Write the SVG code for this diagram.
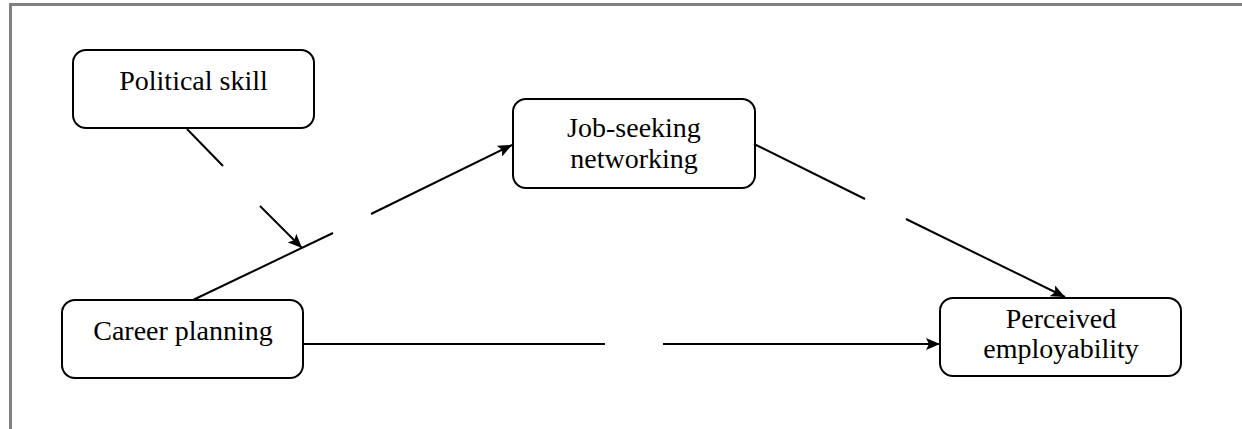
<svg xmlns="http://www.w3.org/2000/svg" width="1242" height="429" viewBox="0 0 1242 429">
<style>
.box{fill:#fff;stroke:#000;stroke-width:2}
.lbl{font-family:"Liberation Serif","Times New Roman",serif;font-size:28px;fill:#000;text-anchor:middle}
.ln{stroke:#000;stroke-width:2;fill:none}
.frame{stroke:#808080;stroke-width:3;fill:none}
</style>
<defs>
<marker id="ah" viewBox="0 0 14 12" refX="14" refY="6" markerWidth="14" markerHeight="12" markerUnits="userSpaceOnUse" orient="auto">
<path d="M0,0 L14,6 L0,12 L3,6 Z" fill="#000"/>
</marker>
</defs>
<rect width="1242" height="429" fill="#fff"/>
<path class="frame" d="M10.5,429 V4.5 H1242"/>
<g id="political-skill">
<rect class="box" x="73" y="50" width="241" height="78" rx="13"/>
<text class="lbl" x="193.5" y="90">Political skill</text>
</g>
<g id="career-planning">
<rect class="box" x="62" y="300" width="241" height="78" rx="13"/>
<text class="lbl" x="183" y="340">Career planning</text>
</g>
<g id="job-seeking-networking">
<rect class="box" x="513" y="99" width="242" height="89" rx="13"/>
<text class="lbl" x="634" y="137">Job-seeking</text>
<text class="lbl" x="634" y="168">networking</text>
</g>
<g id="perceived-employability">
<rect class="box" x="940" y="298" width="241" height="78" rx="13"/>
<text class="lbl" x="1061" y="328">Perceived</text>
<text class="lbl" x="1061" y="358">employability</text>
</g>
<g id="connectors">
<line class="ln" x1="187" y1="129" x2="223" y2="166"/>
<line class="ln" x1="260" y1="206" x2="302" y2="248" marker-end="url(#ah)"/>
<line class="ln" x1="193" y1="300" x2="333" y2="233"/>
<line class="ln" x1="371" y1="214" x2="512" y2="145" marker-end="url(#ah)"/>
<line class="ln" x1="754" y1="144" x2="865" y2="199"/>
<line class="ln" x1="906" y1="219" x2="1065" y2="297" marker-end="url(#ah)"/>
<line class="ln" x1="303" y1="344" x2="605" y2="344"/>
<line class="ln" x1="663" y1="344" x2="940" y2="344" marker-end="url(#ah)"/>
</g>
</svg>
